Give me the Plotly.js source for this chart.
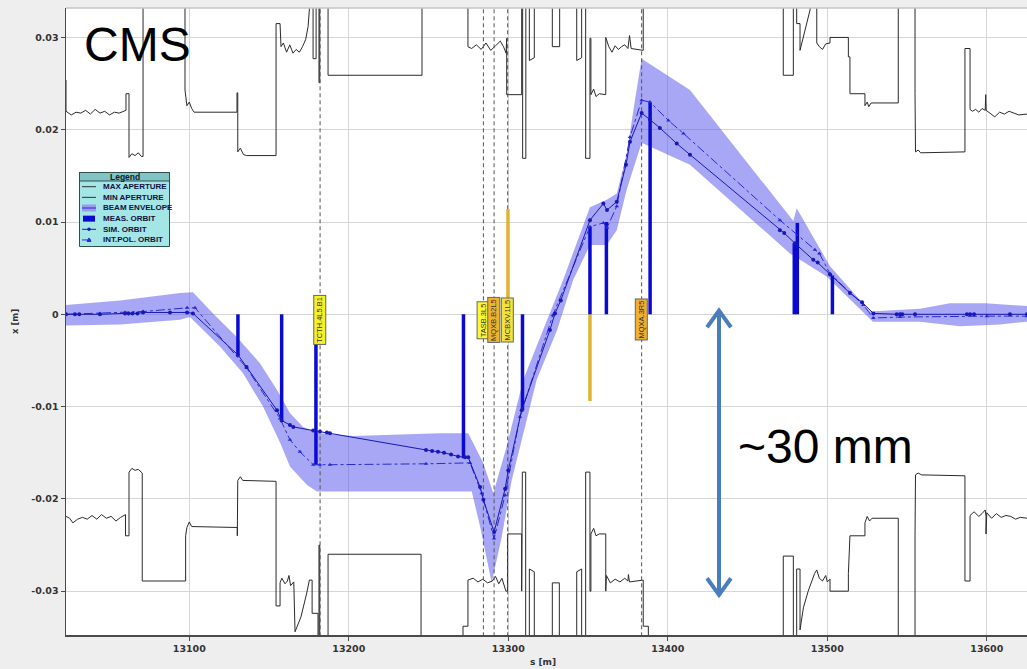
<!DOCTYPE html>
<html><head><meta charset="utf-8">
<script src="https://cdn.plot.ly/plotly-3.0.1.min.js"></script>
<style>html,body{margin:0;padding:0;background:#eeeeee;} #chart{width:1027px;height:669px;}</style>
</head><body><div id="chart"></div>
<script>
// ---------------- DATA ----------------
const xTicks = [13100, 13200, 13300, 13400, 13500, 13600];
const xTickText = ['13100', '13200', '13300', '13400', '13500', '13600'];
const yTicks = [-0.03, -0.02, -0.01, 0, 0.01, 0.02, 0.03];
const yTickText = ['-0.03', '-0.02', '-0.01', '0', '0.01', '0.02', '0.03'];

// MAX APERTURE (upper), s [m] and x [m]
const apUpS = [13022.7,13022.7,13026,13029,13032,13035,13038,13041,13044,13047,13050,13053,13056,13060.3,13060.3,13062.2,13062.2,13064,13066,13068,13070,13071,13071,13097.3,13097.3,13098.5,13100,13101.5,13103,13129.9,13129.9,13130.4,13130.4,13132,13134,13136,13154.4,13154.4,13156.9,13157.5,13159,13161,13163,13165,13167,13169,13171,13173,13174.5,13175.7,13175.7,13177.6,13177.6,13179.5,13179.5,13181.3,13181.3,13181.8,13181.8,13187,13187,13245.9,13245.9,13274.7,13274.7,13277,13280,13283,13286,13289,13292,13295,13297,13298.6,13299,13299,13308.4,13308.4,13309,13309,13311,13311,13313.2,13313.2,13316.3,13316.3,13327.6,13327.6,13332.2,13332.2,13342.9,13342.9,13346.0,13346.0,13348.5,13348.5,13351.2,13351.2,13351.8,13351.8,13353.5,13355,13357,13361.1,13361.1,13363,13365,13367,13369,13371,13373,13375,13376,13377,13380,13384.6,13384.6,13472.4,13472.4,13478.7,13478.7,13480.8,13480.8,13482.9,13482.9,13484.5,13486.5,13489.2,13489.2,13493.4,13493.4,13495,13497,13499,13501.7,13501.7,13513.2,13513.2,13514.2,13514.2,13523.6,13523.6,13525,13526,13527.5,13544.5,13544.5,13555,13555,13555.3,13557,13558.5,13586.3,13586.3,13589.5,13589.5,13591,13593,13595,13597,13599,13599.3,13599.6,13602,13605,13608,13611,13614,13617,13620,13625.2];
const apUpX = [0.0254,0.0220,0.0216,0.0219,0.0218,0.0221,0.0217,0.0222,0.0218,0.0220,0.0216,0.0219,0.0218,0.0221,0.0239,0.0239,0.0170,0.0174,0.0172,0.0175,0.0171,0.0171,0.040,0.040,0.0243,0.0226,0.0230,0.0223,0.0219,0.0219,0.0240,0.0240,0.0176,0.0180,0.0173,0.0172,0.0172,0.0315,0.0315,0.0290,0.0294,0.0284,0.0292,0.0283,0.0287,0.0284,0.0290,0.0298,0.0312,0.0340,0.040,0.040,0.0277,0.0277,0.040,0.040,0.0251,0.0251,0.040,0.040,0.0259,0.0259,0.040,0.040,0.0290,0.0288,0.0292,0.0287,0.0294,0.0286,0.0291,0.0296,0.0290,0.0283,0.0299,0.0238,0.0238,0.040,0.040,0.0169,0.0169,0.040,0.040,0.0275,0.0278,0.040,0.040,0.0290,0.0290,0.040,0.040,0.0275,0.0278,0.040,0.040,0.0169,0.0169,0.0299,0.0299,0.0238,0.0244,0.0236,0.0239,0.0238,0.0300,0.0290,0.0284,0.0291,0.0287,0.0290,0.0292,0.0288,0.0302,0.0288,0.0287,0.0286,0.040,0.040,0.0259,0.0259,0.040,0.040,0.0315,0.0315,0.0286,0.0298,0.0312,0.0330,0.040,0.040,0.0294,0.0290,0.0287,0.0293,0.0294,0.0300,0.0300,0.0279,0.0279,0.0239,0.0239,0.0226,0.0230,0.0225,0.0229,0.0229,0.040,0.040,0.0239,0.0176,0.0178,0.0175,0.0176,0.0288,0.0288,0.0222,0.0220,0.0222,0.0219,0.0223,0.0221,0.0238,0.0221,0.0218,0.0214,0.0219,0.0217,0.0220,0.0218,0.0216,0.0217];

// MIN APERTURE (lower)
const apLoS = [13022.7,13025,13027,13030,13033,13036,13039,13042,13045,13048,13051,13054,13057,13060,13060,13062.2,13062.2,13064,13066,13068,13070.5,13070.5,13097.7,13097.7,13098.5,13100,13101.5,13130.1,13130.1,13130.4,13132,13133.5,13154.4,13154.4,13156.9,13156.9,13158,13160,13161.5,13162.5,13163.5,13165.5,13166.3,13170,13173.5,13175.3,13177,13177,13180.7,13180.7,13181.3,13181.3,13181.8,13181.8,13187,13187,13245.3,13245.3,13271.6,13271.6,13274.7,13274.7,13278,13281,13284,13287,13290,13292,13294,13296,13298.5,13299.5,13299.5,13308.4,13308.4,13308.8,13308.8,13310.9,13310.9,13313.2,13313.2,13316.3,13316.3,13327.6,13327.6,13332.0,13332.0,13342.9,13342.9,13346.0,13346.0,13348.5,13348.5,13351.2,13351.2,13351.8,13351.8,13353.5,13355,13357,13361.1,13361.1,13361.5,13364,13367,13370,13373,13375,13375.3,13376,13380,13384.6,13384.6,13387.8,13387.8,13472.4,13472.4,13478.7,13478.7,13480.8,13480.8,13482.9,13482.9,13485,13488,13490,13492,13493.4,13495,13497,13499,13500,13501.7,13501.7,13513.2,13513.2,13514.2,13523.6,13523.6,13525,13526.5,13528,13544.5,13544.5,13555,13555,13555.3,13557,13559,13586.3,13586.3,13589.5,13589.5,13592,13595,13597,13599,13599.5,13599.5,13600,13603,13606,13609,13612,13615,13618,13621,13625.2];
const apLoX = [-0.0219,-0.0221,-0.0226,-0.0222,-0.0220,-0.0222,-0.0218,-0.0222,-0.0217,-0.0221,-0.0219,-0.0224,-0.0220,-0.0217,-0.0240,-0.0240,-0.0171,-0.0167,-0.0169,-0.0168,-0.0172,-0.0289,-0.0289,-0.0240,-0.0231,-0.0225,-0.0230,-0.0231,-0.0240,-0.0180,-0.0176,-0.0180,-0.0181,-0.0316,-0.0316,-0.0291,-0.0286,-0.0292,-0.0289,-0.0283,-0.0294,-0.0290,-0.0344,-0.0328,-0.0303,-0.0288,-0.0288,-0.0324,-0.0324,-0.040,-0.040,-0.0250,-0.0250,-0.040,-0.040,-0.0260,-0.0260,-0.040,-0.040,-0.0338,-0.0338,-0.0288,-0.0286,-0.0290,-0.0287,-0.0291,-0.0289,-0.0284,-0.0292,-0.0286,-0.0300,-0.0300,-0.0238,-0.0238,-0.0300,-0.0300,-0.0171,-0.0171,-0.040,-0.040,-0.0276,-0.0279,-0.040,-0.040,-0.0291,-0.0291,-0.040,-0.040,-0.0279,-0.0276,-0.040,-0.040,-0.0171,-0.0171,-0.0300,-0.0300,-0.0238,-0.0232,-0.0240,-0.0238,-0.0238,-0.0300,-0.0283,-0.0291,-0.0287,-0.0290,-0.0286,-0.0289,-0.0282,-0.0290,-0.0289,-0.0288,-0.0338,-0.0338,-0.040,-0.040,-0.0262,-0.0262,-0.040,-0.040,-0.0276,-0.0276,-0.0342,-0.0318,-0.0300,-0.0290,-0.0281,-0.0277,-0.0286,-0.0289,-0.0283,-0.0290,-0.0287,-0.0300,-0.0300,-0.0281,-0.0240,-0.0240,-0.0226,-0.0219,-0.0224,-0.0221,-0.0221,-0.040,-0.040,-0.0240,-0.0174,-0.0172,-0.0174,-0.0175,-0.0289,-0.0289,-0.0218,-0.0214,-0.0219,-0.0216,-0.0212,-0.0219,-0.0238,-0.0215,-0.0221,-0.0216,-0.0220,-0.0218,-0.0219,-0.0222,-0.0220,-0.0221];

// BEAM ENVELOPE edges
const envUpS = [13022.7,13056.6,13094.2,13102.3,13114.9,13129.9,13144.3,13155.0,13163.1,13171.3,13181.9,13202.6,13257.2,13274.9,13284.3,13290.6,13299.0,13309.4,13321.8,13334.3,13351.2,13361.7,13368.0,13374.2,13379.4,13383.6,13413.9,13478.7,13480.8,13501.7,13526.8,13558.1,13576.9,13598.9,13625.2];
const envUpX = [0.0010,0.0015,0.0023,0.0024,0.0001,-0.0025,-0.0053,-0.0082,-0.0107,-0.0122,-0.0129,-0.0132,-0.0129,-0.0129,-0.0161,-0.0194,-0.0143,-0.0071,-0.0017,0.0037,0.0116,0.0124,0.0131,0.0173,0.0232,0.0277,0.0243,0.0101,0.0115,0.0052,0.0003,0.0006,0.0012,0.0012,0.0009];
const envLoS = [13022.7,13056.6,13094.2,13100.4,13119.2,13133.7,13146.2,13156.9,13163.1,13173.8,13180.1,13277.1,13282.3,13289.6,13295.9,13302.1,13317.8,13330.6,13340.6,13351.2,13361.7,13368.0,13374.2,13383.6,13413.9,13476.6,13499.6,13528.6,13558.1,13583.2,13608.3,13625.2];
const envLoX = [-0.0012,-0.0011,-0.0006,-0.0003,-0.0035,-0.0064,-0.0100,-0.0139,-0.0165,-0.0185,-0.0192,-0.0192,-0.0230,-0.0291,-0.0241,-0.0180,-0.0071,-0.0017,0.0037,0.0075,0.0075,0.0091,0.0135,0.0186,0.0162,0.0066,0.0041,-0.0008,-0.0008,-0.0013,-0.0011,-0.0008];

// SIM. ORBIT
const simS = [13022.7,13028.3,13031,13044.0,13059.7,13062,13064.4,13067.5,13071,13087.9,13098.6,13102.3,13130.5,13135.9,13155.0,13157.9,13163.1,13165.2,13177.7,13181.9,13186.3,13188.2,13248.4,13252.2,13255.9,13259.7,13264.1,13268.5,13272.9,13274.9,13282.3,13284.4,13291.1,13298.0,13300.0,13308.4,13326.1,13329.3,13332.9,13351.2,13359.6,13361.9,13368.0,13373.8,13376.3,13383.6,13388.8,13395.0,13405.6,13413.9,13470.3,13473,13479.7,13491.2,13494,13501.7,13514.2,13521.8,13528.9,13543.5,13545.6,13547,13555,13587.5,13589.5,13592,13614.5,13625.2];
const simX = [0.0000,0.0000,0.0000,0.0000,0.0001,0.0001,0.0001,0.0001,0.0002,0.0002,0.0002,0.0001,-0.0044,-0.0057,-0.0104,-0.0115,-0.0120,-0.0122,-0.0126,-0.0127,-0.0128,-0.0129,-0.0147,-0.0148,-0.0149,-0.0150,-0.0152,-0.0154,-0.0155,-0.0155,-0.0187,-0.0201,-0.0236,-0.0189,-0.0169,-0.0104,-0.0017,0.0001,0.0015,0.0102,0.0120,0.0113,0.0122,0.0162,0.0187,0.0218,0.0211,0.0202,0.0185,0.0173,0.0091,0.0088,0.0077,0.0059,0.0056,0.0043,0.0023,0.0013,0.0001,0.0000,0.0000,0.0000,0.0000,0.0000,0.0000,0.0000,0.0000,0.0000];

// INT.POL. ORBIT
const intS = [13022.7,13044.0,13059.7,13071.0,13098.6,13103.6,13135.9,13156.9,13163.1,13169.4,13177.7,13181.9,13188.2,13248.4,13276.0,13283.3,13291.1,13298.0,13307.3,13327.9,13351.2,13359.6,13361.9,13368.0,13376.3,13383.6,13388.8,13400.4,13409.8,13470.3,13492.2,13495,13501.7,13522.6,13528.9,13545.6,13600,13625.2];
const intX = [0.0000,0.0001,0.0002,0.0003,0.0007,0.0007,-0.0058,-0.0113,-0.0136,-0.0149,-0.0163,-0.0163,-0.0163,-0.0162,-0.0161,-0.0194,-0.0243,-0.0196,-0.0111,-0.0001,0.0095,0.0099,0.0094,0.0117,0.0192,0.0232,0.0230,0.0210,0.0196,0.0102,0.0070,0.0066,0.0044,0.0010,-0.0004,-0.0003,-0.0002,-0.0002];

// MEAS. ORBIT (BPM readings)
const measS = [13130.5,13157.9,13179.4,13271.9,13308.9,13351.2,13361.5,13388.9,13479.3,13481.2,13503.2];
const measX = [-0.0044,-0.0114,-0.0163,-0.0156,-0.0104,0.0095,0.0100,0.0229,0.0077,0.0099,0.0042];

// orange correction bars
const corrS = [13299.8, 13351.2];
const corrX = [0.0114, -0.0094];

// elements
const elemS = [13182.0, 13284.4, 13291.1, 13299.6, 13383.6];
const elemNames = ['TCTH.4L5.B1', 'TASB.3L5', 'MQXB.B2L5', 'MCBXV.1L5', 'MQXA.3R5'];
const elemColors = ['#f6f028', '#fbf83a', '#f0b42c', '#f4e23c', '#efb030'];

const legendNames = ['MAX APERTURE', 'MIN APERTURE', 'BEAM ENVELOPE', 'MEAS. ORBIT', 'SIM. ORBIT', 'INT.POL. ORBIT'];

// ---------------- LAYOUT CONSTANTS ----------------
const xRange = [13022.7, 13625.2];
const yRange = [-0.03475, 0.03319];
const M = {l: 66, r: 0, t: 8, b: 34};
const W = 1027, H = 669;
const PW = W - M.l - M.r, PH = H - M.t - M.b;
const fx = p => (p - M.l) / PW;
const fy = p => (H - M.b - p) / PH;

function segments(sArr, vArr) {
  const xs = [], ys = [];
  sArr.forEach((s, i) => { xs.push(s, s, null); ys.push(0, vArr[i], null); });
  return {xs, ys};
}
const measSeg = segments(measS, measX);
const corrSeg = segments(corrS, corrX);
const elemX = [], elemY = [];
elemS.forEach(s => { elemX.push(s, s, null); elemY.push(yRange[0] - 0.01, yRange[1] + 0.01, null); });

const traces = [
  {x: envUpS.concat(envLoS.slice().reverse()), y: envUpX.concat(envLoX.slice().reverse()),
   type: 'scatter', mode: 'lines', fill: 'toself', fillcolor: 'rgba(80,80,235,0.5)',
   line: {width: 0}, name: legendNames[2], hoverinfo: 'skip'},
  {x: apUpS, y: apUpX, type: 'scatter', mode: 'lines', line: {color: '#2a2a2a', width: 1}, name: legendNames[0]},
  {x: apLoS, y: apLoX, type: 'scatter', mode: 'lines', line: {color: '#2a2a2a', width: 1}, name: legendNames[1]},
  {x: elemX, y: elemY, type: 'scatter', mode: 'lines', line: {color: '#555555', width: 1, dash: '4px,3px'}, hoverinfo: 'skip'},
  {x: corrSeg.xs, y: corrSeg.ys, type: 'scatter', mode: 'lines', line: {color: '#e2b232', width: 3.5}},
  {x: measSeg.xs, y: measSeg.ys, type: 'scatter', mode: 'lines', line: {color: '#0a0ad0', width: 3.5}, name: legendNames[3]},
  {x: intS, y: intX, type: 'scatter', mode: 'lines+markers', line: {color: '#2a2ad6', width: 1, dash: 'dashdot'},
   marker: {symbol: 'triangle-up', size: 4, color: '#2a2ad6'}, name: legendNames[5]},
  {x: simS, y: simX, type: 'scatter', mode: 'lines+markers', line: {color: '#1818b0', width: 1},
   marker: {symbol: 'circle', size: 4, color: '#1818b8'}, name: legendNames[4]}
];

const tickFont = {family: 'DejaVu Sans', size: 9.5, color: '#333333', weight: 'bold'};

const shapes = [
  {type: 'line', xref: 'paper', yref: 'paper', x0: 0, x1: 1, y0: 1, y1: 1, line: {color: '#c4c4c4', width: 1.5}}
];
// ~30 mm double arrow
const arrowS = 13432.1, arrowTop = 0.0004, arrowBot = -0.0304, headS = 7.5, headX = 0.0018;
const arrowColor = '#4a7ebb';
shapes.push({type: 'line', xref: 'x', yref: 'y', x0: arrowS, x1: arrowS, y0: arrowTop - 0.0002, y1: arrowBot + 0.0002, line: {color: arrowColor, width: 4}});
shapes.push({type: 'path', xref: 'x', yref: 'y', path: `M ${arrowS - headS},${arrowTop - headX} L ${arrowS},${arrowTop} L ${arrowS + headS},${arrowTop - headX}`, line: {color: arrowColor, width: 4}});
shapes.push({type: 'path', xref: 'x', yref: 'y', path: `M ${arrowS - headS},${arrowBot + headX} L ${arrowS},${arrowBot} L ${arrowS + headS},${arrowBot + headX}`, line: {color: arrowColor, width: 4}});

// legend box (drawn manually)
const LG = {left: 79.5, right: 169.5, top: 172.5, head: 181, bottom: 246.5, row0: 186.7, step: 10.65, sx0: 82, sx1: 96, tx: 101};
shapes.push({type: 'rect', xref: 'paper', yref: 'paper', x0: fx(LG.left), x1: fx(LG.right), y0: fy(LG.bottom), y1: fy(LG.top), fillcolor: '#a4e5e5', line: {color: '#2f4f4f', width: 1}});
shapes.push({type: 'rect', xref: 'paper', yref: 'paper', x0: fx(LG.left), x1: fx(LG.right), y0: fy(LG.head), y1: fy(LG.top), fillcolor: '#80c4c4', line: {color: '#2f4f4f', width: 1}});
const rowY = i => LG.row0 + i * LG.step;
// max / min aperture samples
[0, 1].forEach(i => shapes.push({type: 'line', xref: 'paper', yref: 'paper', x0: fx(LG.sx0), x1: fx(LG.sx1), y0: fy(rowY(i)), y1: fy(rowY(i)), line: {color: '#333', width: 1}}));
// envelope sample
shapes.push({type: 'rect', xref: 'paper', yref: 'paper', x0: fx(LG.sx0), x1: fx(LG.sx1), y0: fy(rowY(2) + 3.5), y1: fy(rowY(2) - 3.5), fillcolor: '#9a9af0', line: {width: 0}});
shapes.push({type: 'line', xref: 'paper', yref: 'paper', x0: fx(LG.sx0), x1: fx(LG.sx1), y0: fy(rowY(2)), y1: fy(rowY(2)), line: {color: '#4f4fe0', width: 1.5}});
// meas sample
shapes.push({type: 'rect', xref: 'paper', yref: 'paper', x0: fx(LG.sx0 + 1), x1: fx(LG.sx1 - 1), y0: fy(rowY(3) + 3), y1: fy(rowY(3) - 3), fillcolor: '#0a0ad0', line: {width: 0}});
// sim sample
shapes.push({type: 'line', xref: 'paper', yref: 'paper', x0: fx(LG.sx0), x1: fx(LG.sx1), y0: fy(rowY(4)), y1: fy(rowY(4)), line: {color: '#1818b0', width: 1}});
shapes.push({type: 'circle', xref: 'paper', yref: 'paper', x0: fx(87.3), x1: fx(90.7), y0: fy(rowY(4) + 1.7), y1: fy(rowY(4) - 1.7), fillcolor: '#1818b0', line: {width: 0}});
// int.pol sample
shapes.push({type: 'line', xref: 'paper', yref: 'paper', x0: fx(LG.sx0), x1: fx(LG.sx1), y0: fy(rowY(5)), y1: fy(rowY(5)), line: {color: '#2a2ad6', width: 1, dash: 'dash'}});
shapes.push({type: 'path', xref: 'paper', yref: 'paper', path: `M ${fx(87)},${fy(rowY(5) + 1.5)} L ${fx(89)},${fy(rowY(5) - 2)} L ${fx(91)},${fy(rowY(5) + 1.5)} Z`, fillcolor: '#2a2ad6', line: {color: '#2a2ad6', width: 1}});

const annotations = [];
annotations.push({xref: 'paper', yref: 'paper', x: fx((LG.left + LG.right) / 2), y: fy((LG.top + LG.head) / 2), text: 'Legend', showarrow: false,
  xanchor: 'center', yanchor: 'middle', font: {family: 'Liberation Sans', size: 8.5, color: '#10202a', weight: 'bold'}});
legendNames.forEach((n, i) => annotations.push({xref: 'paper', yref: 'paper', x: fx(LG.tx), y: fy(rowY(i)), text: n, showarrow: false,
  xanchor: 'left', yanchor: 'middle', font: {family: 'Liberation Sans', size: 8, color: '#101040', weight: 'bold'}}));

// element labels
const labelY = -0.0006;
elemS.forEach((s, i) => annotations.push({x: s, y: labelY, xref: 'x', yref: 'y', text: elemNames[i], showarrow: false, textangle: -90,
  font: {family: 'Liberation Sans', size: 7.5, color: '#333333'}, bgcolor: elemColors[i], bordercolor: '#666', borderwidth: 1, borderpad: 1}));

// big texts
annotations.push({xref: 'paper', yref: 'paper', x: fx(82), y: fy(44.5), text: 'CMS', showarrow: false, xanchor: 'left', yanchor: 'middle',
  font: {family: 'Liberation Sans', size: 48, color: '#000000'}});
annotations.push({xref: 'paper', yref: 'paper', x: fx(736), y: fy(446.5), text: '~30 mm', showarrow: false, xanchor: 'left', yanchor: 'middle',
  font: {family: 'Liberation Sans', size: 48, color: '#000000'}});
// axis titles
annotations.push({xref: 'paper', yref: 'paper', x: fx(543), y: fy(662), text: 's [m]', showarrow: false, xanchor: 'center', yanchor: 'middle',
  font: {family: 'DejaVu Sans', size: 9, color: '#333333', weight: 'bold'}});
annotations.push({xref: 'paper', yref: 'paper', x: fx(15), y: fy(322), text: 'x [m]', showarrow: false, textangle: -90, xanchor: 'center', yanchor: 'middle',
  font: {family: 'DejaVu Sans', size: 8.5, color: '#333333', weight: 'bold'}});

const layout = {
  width: W, height: H, margin: M, paper_bgcolor: '#eeeeee', plot_bgcolor: '#ffffff', showlegend: false,
  xaxis: {range: xRange, tickvals: xTicks, ticktext: xTickText, showgrid: true, gridcolor: '#d6d6d6', gridwidth: 1,
    zeroline: false, showline: true, linecolor: '#4a4a4a', linewidth: 1.5, ticks: 'outside', ticklen: 4, tickcolor: '#4a4a4a',
    tickfont: tickFont, fixedrange: true},
  yaxis: {range: yRange, tickvals: yTicks, ticktext: yTickText, showgrid: true, gridcolor: '#d6d6d6', gridwidth: 1,
    zeroline: false, showline: true, linecolor: '#4a4a4a', linewidth: 1.5, ticks: 'outside', ticklen: 4, tickcolor: '#4a4a4a',
    tickfont: tickFont, fixedrange: true},
  shapes: shapes, annotations: annotations
};

Plotly.newPlot('chart', traces, layout, {displayModeBar: false, staticPlot: true});
</script></body></html>
